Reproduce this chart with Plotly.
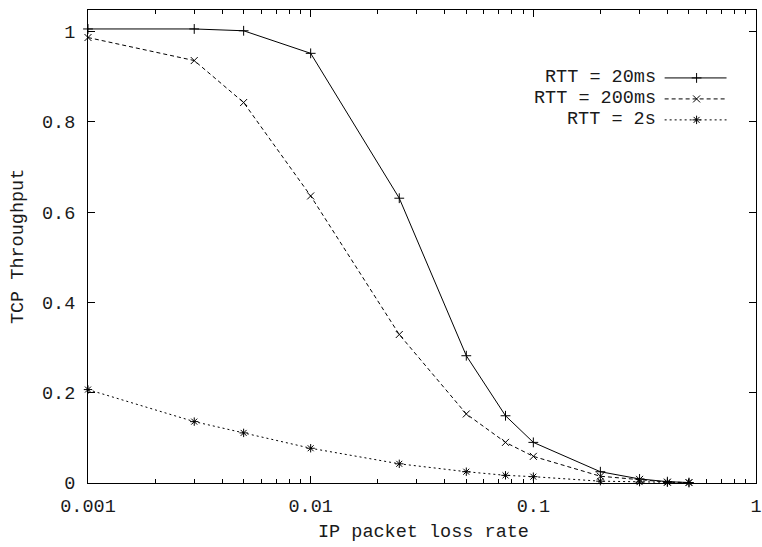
import plotly.graph_objects as go

# ---- data ----
loss_rate = [0.001, 0.003, 0.005, 0.01, 0.025, 0.05, 0.075, 0.1, 0.2, 0.3, 0.4, 0.5]
rtt_20ms = [1.006, 1.006, 1.002, 0.952, 0.631, 0.282, 0.149, 0.090, 0.025, 0.009, 0.003, 0.001]
rtt_200ms = [0.987, 0.936, 0.843, 0.636, 0.329, 0.153, 0.090, 0.059, 0.015, 0.008, 0.002, 0.001]
rtt_2s = [0.207, 0.136, 0.111, 0.077, 0.0425, 0.025, 0.017, 0.014, 0.004, 0.002, 0.001, 0.001]
series_names = ["RTT = 20ms", "RTT = 200ms", "RTT = 2s"]
x_tick_vals = [0.001, 0.01, 0.1, 1]
x_tick_text = ["0.001", "0.01", "0.1", "1"]
y_tick_vals = [0, 0.2, 0.4, 0.6, 0.8, 1]
y_tick_text = ["0", "0.2", "0.4", "0.6", "0.8", "1"]
x_title = "IP packet loss rate"
y_title = "TCP Throughput"

FONT = "Liberation Mono, Courier New, monospace"
FS = 18.5
TXT = "#1a1a1a"
W, H = 762, 547
L, R, T, B = 87.5, 5.5, 10, 63.5
PW, PH = W - L - R, H - T - B

def px(x):
    return (x - L) / PW

def py(y):
    return (H - B - y) / PH

styles = [
    dict(dash="solid", symbol="cross-thin-open"),
    dict(dash="4px,3px", symbol="x-thin-open"),
    dict(dash="2px,3px", symbol="asterisk-open"),
]
all_series = [rtt_20ms, rtt_200ms, rtt_2s]
MS = 7

fig = go.Figure()
for name, ys, st in zip(series_names, all_series, styles):
    fig.add_trace(go.Scatter(
        x=loss_rate, y=ys, mode="lines+markers", name=name,
        line=dict(color="black", width=1, dash=st["dash"]),
        marker=dict(symbol=st["symbol"], size=MS, color="black",
                    line=dict(color="black", width=1)),
        showlegend=False, cliponaxis=False,
    ))

# custom gnuplot-style legend (key)
rows_y = [78, 99, 120]
text_right = 658
line_x0, line_x1, mark_x = 665, 727, 697
annotations = []
for name, st, ry in zip(series_names, styles, rows_y):
    annotations.append(dict(
        x=px(text_right), y=py(ry), xref="paper", yref="paper",
        text=name, showarrow=False, xanchor="right", yanchor="middle",
        font=dict(family=FONT, size=FS, color=TXT)))
    fig.add_trace(go.Scatter(
        x=[px(line_x0), px(line_x1)], y=[py(ry), py(ry)], mode="lines",
        line=dict(color="black", width=1, dash=st["dash"]),
        xaxis="x2", yaxis="y2", showlegend=False, hoverinfo="skip"))
    fig.add_trace(go.Scatter(
        x=[px(mark_x)], y=[py(ry)], mode="markers",
        marker=dict(symbol=st["symbol"], size=MS, color="black",
                    line=dict(color="black", width=1)),
        xaxis="x2", yaxis="y2", showlegend=False, hoverinfo="skip"))

annotations.append(dict(
    x=px(423.5), y=py(533), xref="paper", yref="paper", text=x_title,
    showarrow=False, xanchor="center", yanchor="middle",
    font=dict(family=FONT, size=FS, color=TXT)))
annotations.append(dict(
    x=px(18), y=0.5, xref="paper", yref="paper", text=y_title,
    showarrow=False, xanchor="center", yanchor="middle", textangle=-90,
    font=dict(family=FONT, size=FS, color=TXT)))

minor_x = [k * 10 ** e for e in (-3, -2, -1) for k in range(2, 10)]

fig.update_layout(
    width=W, height=H,
    margin=dict(l=L, r=R, t=T, b=B, pad=0),
    paper_bgcolor="white", plot_bgcolor="white",
    font=dict(family=FONT, size=FS, color=TXT),
    showlegend=False,
    annotations=annotations,
    xaxis=dict(
        type="log", range=[-3, 0], autorange=False,
        tickvals=x_tick_vals, ticktext=x_tick_text,
        ticks="inside", ticklen=7, tickwidth=1, tickcolor="black",
        showline=True, linecolor="black", linewidth=1, mirror="allticks",
        showgrid=False, zeroline=False, automargin=False,
        ticklabelstandoff=6, ticklabeloverflow="allow",
        minor=dict(tickvals=minor_x, ticks="inside", ticklen=4,
                   tickwidth=1, tickcolor="black", showgrid=False),
        tickfont=dict(family=FONT, size=FS, color=TXT),
    ),
    yaxis=dict(
        range=[0, 1.048], autorange=False,
        tickvals=y_tick_vals, ticktext=y_tick_text,
        ticks="inside", ticklen=7, tickwidth=1, tickcolor="black",
        showline=True, linecolor="black", linewidth=1, mirror="allticks",
        showgrid=False, zeroline=False, automargin=False,
        ticklabelstandoff=8, ticklabeloverflow="allow",
        tickfont=dict(family=FONT, size=FS, color=TXT),
    ),
    xaxis2=dict(overlaying="x", range=[0, 1], visible=False, autorange=False),
    yaxis2=dict(overlaying="y", range=[0, 1], visible=False, autorange=False),
)

fig.write_html("out.html")
